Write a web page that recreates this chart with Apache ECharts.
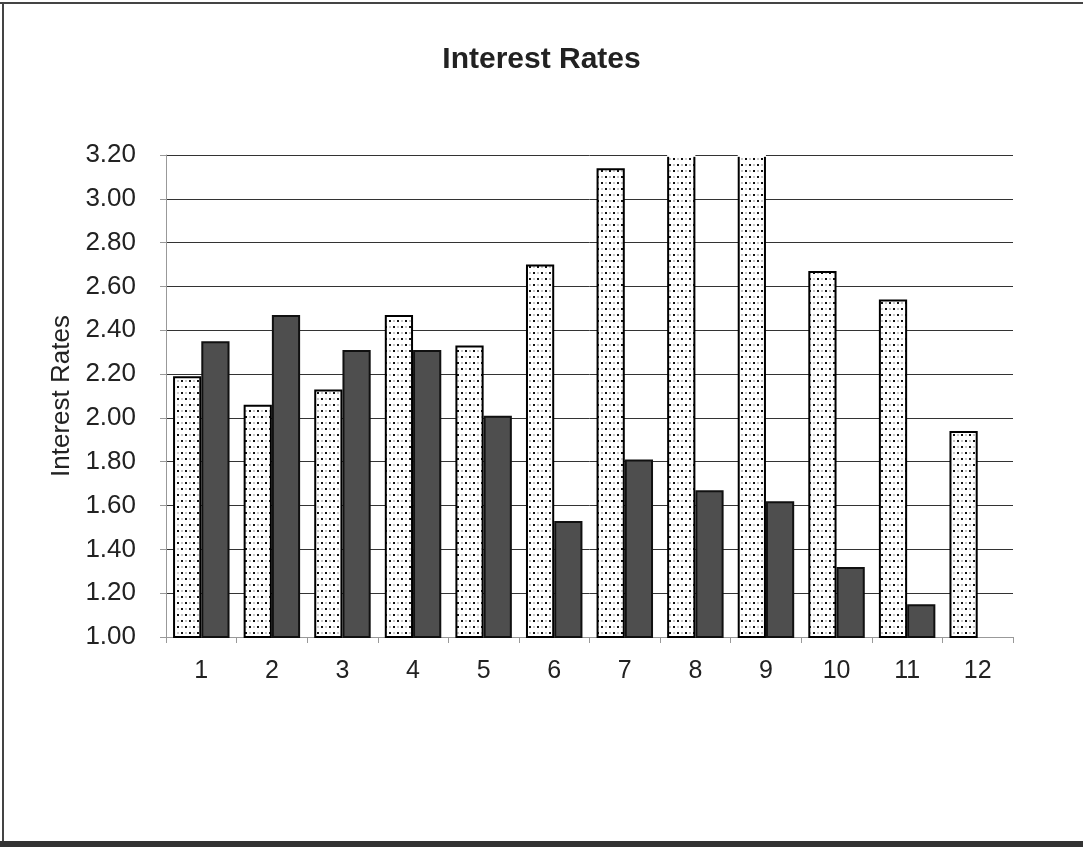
<!DOCTYPE html>
<html>
<head>
<meta charset="utf-8">
<script src="https://cdn.jsdelivr.net/npm/echarts@6/dist/echarts.min.js"></script>
<style>
  html, body { margin: 0; padding: 0; background: #fff; }
  #chart { width: 1083px; height: 852px; }
</style>
</head>
<body>
<div id="chart"></div>
<script>
// months 1..12
var categories = ['1', '2', '3', '4', '5', '6', '7', '8', '9', '10', '11', '12'];
// dotted bars (first series), 8 and 9 run off the top of the axis
var ratesA = [2.19, 2.06, 2.13, 2.47, 2.33, 2.70, 3.14, 3.40, 3.40, 2.67, 2.54, 1.94];
// dark bars (second series), nothing for month 12
var ratesB = [2.35, 2.47, 2.31, 2.31, 2.01, 1.53, 1.81, 1.67, 1.62, 1.32, 1.15, null];
var yTicks = [1.0, 3.2, 0.2]; // min, max, step

// little dot pattern for the light bars
function makeDots() {
	var c = document.createElement('canvas');
	c.width = 8;
	c.height = 12;
	var ctx = c.getContext('2d');
	ctx.fillStyle = '#ffffff';
	ctx.fillRect(0, 0, 8, 12);
	ctx.fillStyle = '#111';
	ctx.fillRect(1, 2, 2, 2);
	ctx.fillRect(5, 8, 2, 2);
	ctx.fillStyle = '#c8c8c8';
	ctx.fillRect(5, 2, 2, 2);
	ctx.fillRect(1, 8, 2, 2);
	return c;
}

// bars cut off by the axis max lose their top edge (like the original)
function clipped(v) {
	if (v === null || v <= yTicks[1]) {
		return v;
	}
	return {
		value: v,
		itemStyle: {
			borderColor: {
				type: 'linear', x: 0, y: 0, x2: 0, y2: 1,
				colorStops: [
					{ offset: 0, color: '#fff' },
					{ offset: 0.005, color: '#fff' },
					{ offset: 0.006, color: '#000' },
					{ offset: 1, color: '#000' }
				]
			}
		}
	};
}

var myChart = echarts.init(document.getElementById('chart'), null, { renderer: 'canvas' });

var option = {
	backgroundColor: '#fff',
	animation: false,
	title: {
		text: 'Interest Rates',
		left: 'center',
		top: 40,
		textStyle: {
			fontFamily: 'Liberation Sans',
			fontSize: 30,
			fontWeight: 'bold',
			color: '#222'
		}
	},
	grid: {
		left: 166,
		right: 70,
		top: 155,
		bottom: 215,
		containLabel: false,
		outerBoundsMode: 'none'
	},
	xAxis: {
		type: 'category',
		data: categories,
		axisLine: { show: true, lineStyle: { color: '#999', width: 1 } },
		axisTick: { show: true, length: 6, lineStyle: { color: '#999' } },
		axisLabel: {
			margin: 22,
			fontFamily: 'Liberation Sans',
			fontSize: 25,
			color: '#222'
		},
		splitLine: { show: false }
	},
	yAxis: {
		type: 'value',
		min: yTicks[0],
		max: yTicks[1],
		interval: yTicks[2],
		name: 'Interest Rates',
		nameLocation: 'middle',
		nameGap: 90,
		nameRotate: 90,
		nameTextStyle: {
			fontFamily: 'Liberation Sans',
			fontSize: 26,
			color: '#222'
		},
		axisLine: { show: true, lineStyle: { color: '#999', width: 1 } },
		axisTick: { show: true, length: 6, lineStyle: { color: '#999' } },
		axisLabel: {
			margin: 30,
			fontFamily: 'Liberation Sans',
			fontSize: 26,
			color: '#222',
			formatter: function (v) {
				return v.toFixed(2);
			}
		},
		splitLine: { show: true, lineStyle: { color: '#333', width: 1 } }
	},
	series: [
		{
			name: 'A',
			type: 'bar',
			data: ratesA.map(clipped),
			clip: true,
			barGap: '0%',
			barCategoryGap: '20%',
			itemStyle: {
				color: { image: makeDots(), repeat: 'repeat' },
				borderColor: '#000',
				borderWidth: 2
			}
		},
		{
			name: 'B',
			type: 'bar',
			data: ratesB,
			clip: true,
			barGap: '0%',
			barCategoryGap: '20%',
			itemStyle: {
				color: '#4e4e4e',
				borderColor: '#111',
				borderWidth: 2
			}
		}
	],
	graphic: [
		// frame round the whole chart
		{ type: 'line', shape: { x1: 0, y1: 3, x2: 1083, y2: 3 }, style: { stroke: '#444', lineWidth: 2 } },
		{ type: 'line', shape: { x1: 3, y1: 2, x2: 3, y2: 846 }, style: { stroke: '#444', lineWidth: 2 } },
		{ type: 'line', shape: { x1: 0, y1: 844, x2: 1083, y2: 844 }, style: { stroke: '#333', lineWidth: 6 } }
	]
};

myChart.setOption(option);
</script>
</body>
</html>
